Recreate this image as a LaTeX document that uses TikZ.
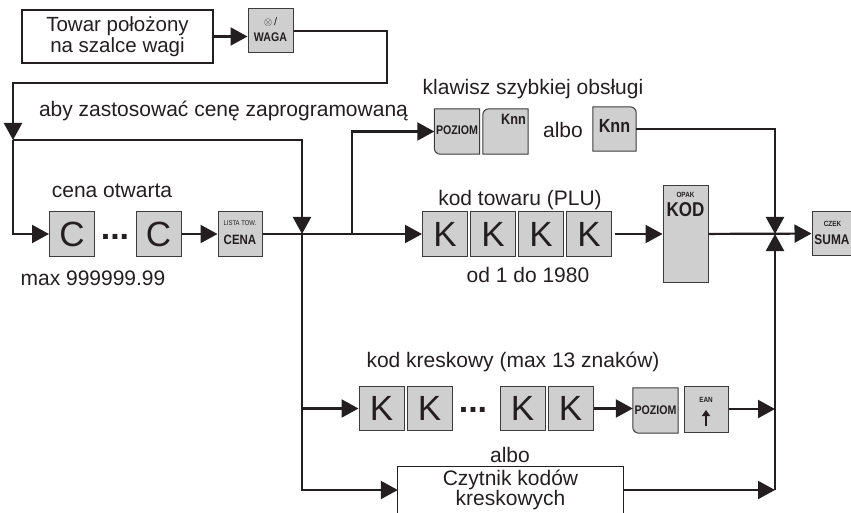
\documentclass[tikz,border=0pt]{standalone}
\usepackage{fontspec}
\setmainfont{Liberation Sans}
\newfontfamily\keyfont[FakeStretch=0.85]{Liberation Sans}
\usetikzlibrary{arrows.meta,positioning,backgrounds}
\definecolor{ink}{HTML}{231F20}
\definecolor{keygray}{HTML}{CFCFCF}
\definecolor{keyedge}{HTML}{3C3C3C}
\tikzset{>={Triangle[length=17pt,width=18pt]},
  every node/.style={text=ink,font=\fontsize{21}{22}\selectfont},
  flow/.style={->,draw=ink,line width=2.2pt},
  wire/.style={draw=ink,line width=2.2pt},
  key/.style={draw=keyedge,fill=keygray,line width=1pt,minimum width=45pt,minimum height=44pt,inner sep=0pt},
  bigkey/.style={key,font=\fontsize{35}{36}\selectfont},
  softkey/.style={minimum width=45pt,minimum height=45pt,inner sep=0pt},
  keyshape/.style={draw=keyedge,fill=keygray,line width=1pt},
  keylabel/.style={inner sep=0pt,font=\keyfont\bfseries\fontsize{12.5}{13}\selectfont},
  tinylabel/.style={inner sep=0pt,font=\keyfont\bfseries\fontsize{7.5}{8}\selectfont},
  dots/.style={anchor=base,inner sep=0pt,font=\bfseries\fontsize{34}{34}\selectfont},
  framebox/.style={draw=ink,line width=1.3pt,align=center,inner sep=0pt},
  boxline/.style={draw=ink,line width=1.2pt}}
\begin{document}
\begin{tikzpicture}[x=1pt,y=-1pt]
\useasboundingbox (0,0) rectangle (851,513);
% scale and weighing key
\node[framebox,minimum width=191pt,minimum height=53pt,font=\fontsize{20.5}{21}\selectfont] (towar) at (117.5,36.5) {Towar położony\\na szalce wagi};
\node[key] (waga) at (270.5,31) {};
\node[inner sep=0pt,font=\fontsize{11}{11}\selectfont] (wagaA) at ([yshift=9pt]waga.center) {$\otimes$\,/};
\node[keylabel] (wagaB) at ([yshift=-6pt]waga.center) {WAGA};
\node[anchor=base] (abyT) at (223.5,117) {aby zastosować cenę zaprogramowaną};
\coordinate (bend) at (387,83);
\coordinate (split) at (13,140);
\coordinate (j1) at (302,234);
\coordinate (j2) at (352,234);
\coordinate (j3) at (775,234);
% open price
\node[anchor=base] (otwT) at (112,198) {cena otwarta};
\node[bigkey] (c1) at (72,234) {C};
\node[dots] (cdots) at (115,239) {...};
\node[bigkey] (c2) at (158.5,234) {C};
\node[key,minimum width=44pt] (cena) at (240,234) {};
\node[tinylabel,font=\keyfont\fontsize{7}{7}\selectfont] (cenaA) at ([yshift=11pt]cena.center) {LISTA TOW.};
\node[keylabel,font=\keyfont\bfseries\fontsize{13.5}{14}\selectfont] (cenaB) at ([yshift=-5.5pt]cena.center) {CENA};
\node[anchor=base] (maxT) at (93,285) {max 999999.99};
% quick keys
\node[anchor=base] (klawT) at (533,95) {klawisz szybkiej obsługi};
\node[softkey] (poz1) at (457,131.5) {};
\node[keylabel] (poz1T) at ([yshift=1pt]poz1.center) {POZIOM};
\node[softkey] (knnA) at (505.5,131.5) {};
\node[keylabel,anchor=north east,font=\keyfont\bfseries\fontsize{15}{15}\selectfont] (knnAT) at ([xshift=-2pt,yshift=-5pt]knnA.north east) {Knn};
\node[anchor=base] (albo1) at (563,138) {albo};
\node[softkey,minimum width=43pt,minimum height=44pt] (knnB) at (614.5,129) {};
\node[keylabel,font=\keyfont\bfseries\fontsize{19}{19}\selectfont] (knnBT) at ([yshift=3pt]knnB.center) {Knn};
% PLU code
\node[anchor=base] (pluT) at (520,205) {kod towaru (PLU)};
\node[bigkey] (k1) at (445,234) {K};
\node[bigkey] (k2) at (493,234) {K};
\node[bigkey] (k3) at (541,234) {K};
\node[bigkey] (k4) at (589,234) {K};
\node[anchor=base] (odT) at (528,282) {od 1 do 1980};
\node[key,minimum height=97pt] (kod) at (685.5,234) {};
\node[tinylabel] (kodA) at ([yshift=-10pt]kod.north) {OPAK};
\node[keylabel,font=\keyfont\bfseries\fontsize{20}{20}\selectfont] (kodB) at ([yshift=-25pt]kod.north) {KOD};
\node[key,minimum height=43pt] (suma) at (834.5,233.5) {};
\node[tinylabel] (sumaA) at ([xshift=-2pt,yshift=9.5pt]suma.center) {CZEK};
\node[keylabel,font=\keyfont\bfseries\fontsize{14}{14}\selectfont] (sumaB) at ([xshift=-2.5pt,yshift=-6pt]suma.center) {SUMA};
% bar code
\node[anchor=base] (kreskT) at (513,367) {kod kreskowy (max 13 znaków)};
\node[bigkey] (k5) at (381.5,408.5) {K};
\node[bigkey] (k6) at (429.5,408.5) {K};
\node[dots] (kdots) at (473,412) {...};
\node[bigkey] (k7) at (522.5,408.5) {K};
\node[bigkey] (k8) at (570.5,408.5) {K};
\node[softkey] (poz2) at (655.5,410.5) {};
\node[keylabel] (poz2T) at (poz2.center) {POZIOM};
\node[key,minimum width=44pt,minimum height=46pt] (ean) at (706,409) {};
\node[tinylabel] (eanT) at ([yshift=9pt]ean.center) {EAN};
\draw[-{Triangle[length=6pt,width=8pt]},line width=1.8pt,draw=ink] ([yshift=-17pt]ean.center) -- ([yshift=-1pt]ean.center);
\node[anchor=base] (albo2) at (510,462) {albo};
\node[minimum width=225pt,minimum height=46pt,align=center,inner sep=0pt,font=\fontsize{21}{20}\selectfont] (czyt) at (510.5,490) {Czytnik kodów\\kreskowych};
\draw[boxline] (czyt.south west) -- (czyt.north west) -- (czyt.north east) -- (czyt.south east);
% keys with one rounded corner
\begin{scope}[on background layer]
\draw[keyshape] (poz1.north west) -- (poz1.north east) -- (poz1.south east) -- ([xshift=6pt]poz1.south west) arc[start angle=270,end angle=180,radius=6pt] -- cycle;
\draw[keyshape] ([yshift=-6pt]knnA.north west) arc[start angle=180,end angle=90,radius=6pt] -- (knnA.north east) -- (knnA.south east) -- (knnA.south west) -- cycle;
\draw[keyshape] (knnB.north west) -- ([xshift=-6pt]knnB.north east) arc[start angle=90,end angle=0,radius=6pt] -- (knnB.south east) -- (knnB.south west) -- cycle;
\draw[keyshape] (poz2.north west) -- (poz2.north east) -- (poz2.south east) -- ([xshift=6pt]poz2.south west) arc[start angle=270,end angle=180,radius=6pt] -- cycle;
\end{scope}
% connectors
\draw[flow] (towar.east) -- (towar.east -| waga.west);
\draw[flow] (waga.east) -| (bend) -| (split);
\draw[flow] (split) |- (c1.west);
\draw[flow] (split) -| (j1);
\draw[flow] (c2) -- (cena);
\draw[wire] (cena.east) -- (j2);
\draw[flow] (j2) -- (k1.west);
\draw[flow] (j2) |- (poz1.west);
\draw[flow] (knnB.east) -| (j3);
\draw[flow,shorten <=3pt] (k4) -- (kod);
\draw[flow] (kod) -- (suma);
\draw[flow] (j1) |- (k5.west);
\draw[flow] (j1) |- (czyt.west);
\draw[flow] (k8.east) -- (k8.east -| poz2.west);
\draw[flow] (ean.east) -- (ean.east -| j3);
\draw[flow] (czyt.east) -- (czyt.east -| j3);
\draw[flow] (czyt.east -| j3) -- (j3);
\end{tikzpicture}
\end{document}
